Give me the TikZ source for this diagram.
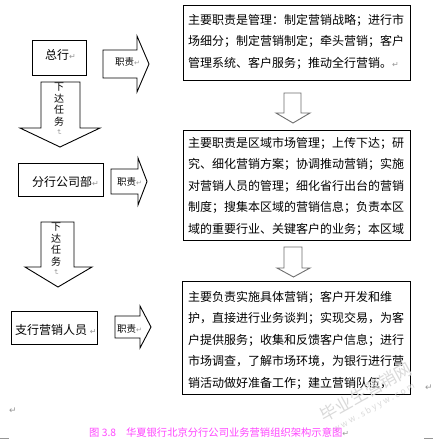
\documentclass[tikz,border=0pt]{standalone}
\usepackage{fontspec}
\setmainfont{Noto Sans CJK SC}
\newfontfamily\dv{DejaVu Sans}
\definecolor{capc}{RGB}{255,70,255}
\definecolor{retc}{RGB}{150,150,150}
\definecolor{wmc}{RGB}{218,218,218}
\definecolor{garc}{RGB}{110,110,110}
\newcommand{\retm}[1][8]{{\dv\fontsize{#1}{#1}\selectfont\textcolor{retc}{↵}}}
\begin{document}
\begin{tikzpicture}[x=1pt,y=-1pt,
  rbox/.style={draw=black, line width=0.9pt, inner sep=0pt, anchor=north west},
  blk/.style={draw=black, line width=0.9pt, fill=white, line join=miter},
  garrow/.style={draw=garc, line width=0.9pt, fill=white, line join=miter},
  rtext/.style={inner sep=0pt, anchor=north west, align=left, font=\fontsize{12}{21.5}\selectfont},
  ltext/.style={inner sep=0pt, anchor=west, font=\fontsize{12}{12}\selectfont},
  ztext/.style={inner sep=0pt, anchor=west, font=\fontsize{9.5}{9.5}\selectfont},
  vtext/.style={inner sep=0pt, anchor=north, align=center, font=\fontsize{10}{11.5}\selectfont},
  wm/.style={inner sep=0pt, text=wmc, rotate=29}
]
\useasboundingbox (0,0) rectangle (433,440);
\fill[white] (0,0) rectangle (433,440);

% watermark (behind)
% right column boxes
\node[rbox, minimum width=227pt, minimum height=75pt] (r1) at (183,5) {};
\node[rtext] (t1) at (188,14) {主要职责是管理：制定营销战略；进行市\\场细分；制定营销制定；牵头营销；客户\\管理系统、客户服务；推动全行营销。\retm};

\node[rbox, minimum width=227pt, minimum height=110pt] (r2) at (183,130) {};
\node[rtext] (t2) at (188,137) {主要职责是区域市场管理；上传下达；研\\究、细化营销方案；协调推动营销；实施\\对营销人员的管理；细化省行出台的营销\\制度；搜集本区域的营销信息；负责本区\\域的重要行业、关键客户的业务；本区域};

\node[rbox, minimum width=228pt, minimum height=113pt] (r3) at (182,281) {};
\node[rtext] (t3) at (188,291) {主要负责实施具体营销；客户开发和维\\护，直接进行业务谈判；实现交易，为客\\户提供服务；收集和反馈客户信息；进行\\市场调查，了解市场环境，为银行进行营\\销活动做好准备工作；建立营销队伍，};

% right column down arrows
\draw[garrow] (284,93) -- (301,93) -- (301,113) -- (310,113) -- (293,123) -- (276,113) -- (284,113) -- cycle;
\draw[garrow] (284,247) -- (302,247) -- (302,268) -- (310,268) -- (293.5,277) -- (277,268) -- (284,268) -- cycle;

% left boxes
\node[rbox, minimum width=54pt, minimum height=35pt] (l1) at (32,40) {};
\node[ltext] (lt1) at (45,55) {总行\retm};
\node[rbox, minimum width=85pt, minimum height=33pt] (l2) at (18,163) {};
\node[ltext] (lt2) at (32,182) {分行公司部\retm};
\node[rbox, minimum width=86pt, minimum height=33pt] (l3) at (11,311) {};
\node[ltext] (lt3) at (15,330) {支行营销人员 \retm};

% right-pointing arrows
\draw[blk] (103,50) -- (137,50) -- (137,36) -- (149,64) -- (137,92) -- (137,78) -- (103,78) -- cycle;
\node[ztext] (z1) at (115,62) {职责\retm[7]};
\draw[blk] (111,169) -- (138,169) -- (138,158) -- (147,181.5) -- (138,205) -- (138,194) -- (111,194) -- cycle;
\node[ztext] (z2) at (117,182) {职责\retm[7]};
\draw[blk] (115,316) -- (140,316) -- (140,306) -- (151,327) -- (140,348) -- (140,338) -- (115,338) -- cycle;
\node[ztext] (z3) at (117,329) {职责\retm[7]};

% down arrows (left)
\draw[blk] (41,82) -- (80,82) -- (80,128) -- (100,128) -- (60,147) -- (20,128) -- (41,128) -- cycle;
\node[vtext] (v1) at (59,83) {下\\达\\任\\务};
\node[inner sep=0pt, rotate=-90] (v1r) at (59,132) {\retm[7]};
\draw[blk] (41,222) -- (74,222) -- (74,267) -- (92,267) -- (58,287) -- (25,267) -- (41,267) -- cycle;
\node[vtext] (v2) at (56,223) {下\\达\\任\\务};
\node[inner sep=0pt, rotate=-90] (v2r) at (56,272) {\retm[7]};

% stray paragraph marks and page marks
\node[inner sep=0pt] (p1) at (13,411) {\retm[9]};
\node[inner sep=0pt] (p2) at (429,388) {\retm[9]};
\draw[retc, line width=0.8pt] (0,438) -- (9,438);
\draw[retc, line width=0.8pt] (424,438) -- (433,438);

% watermark
\node[wm, font=\fontsize{17}{17}\selectfont] (w1) at (366,392) {毕业生营销网};
\node[wm, font=\fontsize{8.5}{8.5}\selectfont] (w2) at (374,408) {w w w . s b y y w . c o m};

% caption
\node[inner sep=0pt, anchor=west, text=capc, font=\fontsize{10.3}{10.3}\selectfont] (cap) at (89,433) {图 3.8\hspace{10pt}华夏银行北京分行公司业务营销组织架构示意图\retm[8]};
\end{tikzpicture}
\end{document}
